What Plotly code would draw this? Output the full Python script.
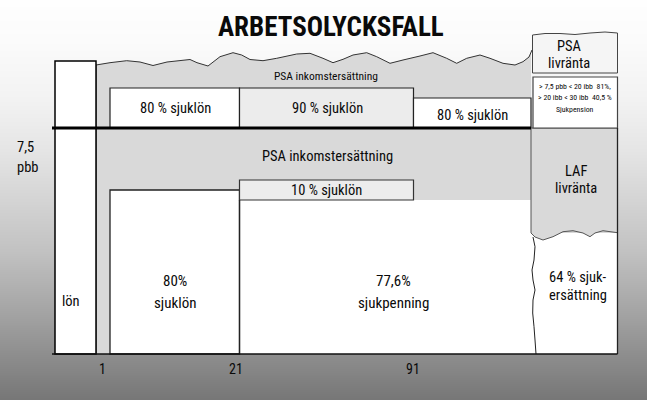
import plotly.graph_objects as go

# ---------------- data (labels / values) ----------------
title_text = "ARBETSOLYCKSFALL"
day_ticks = [1, 21, 91]
day_tick_labels = ["1", "21", "91"]
income_cap_lines = ["7,5", "pbb"]
upper_band_label = "PSA inkomstersättning"
upper_labels = ["80 % sjuklön", "90 % sjuklön", "80 % sjuklön"]
lower_band_label = "PSA inkomstersättning"
sick_pay_lines = ["80%", "sjuklön"]
top_up_label = "10 % sjuklön"
sickness_benefit_lines = ["77,6%", "sjukpenning"]
salary_label = "lön"
psa_annuity_lines = ["PSA", "livränta"]
laf_annuity_lines = ["LAF", "livränta"]
pension_lines = ["> 7,5 pbb < 20 ibb  81%,", "> 20 ibb < 30 ibb  40,5 %", "Sjukpension"]
compensation_lines = ["64 % sjuk-", "ersättning"]

# ---------------- schematic geometry (diagram units) ----------------
# column edges: lön | karens | day 1-21 | day 22-91 | after 91 | livränta
col = [55, 96, 110, 239.5, 413.5, 531, 617.5]
y_base = 354          # time axis
y_cap = 128           # 7,5 pbb line
y_top_box = 61
y_upper_box = [88, 88, 98]
y_sick80_top = 190
y_ten_top, y_ten_bot = 180, 200
tick_x = [102, 236, 413]

top_wave = [(96, 65), (110, 62.7), (126.7, 60.7), (140, 62), (153, 65.5), (167, 62), (190, 59.5),
            (197, 62.7), (208, 66), (220, 56.7), (233, 52.7), (241.7, 55), (250, 59.5), (263, 60.7),
            (276.7, 58.3), (296.7, 54), (310, 53.3), (323, 58.3), (333, 62.7), (343, 59.3), (353, 55),
            (366.7, 52.7), (376.7, 56.7), (390, 63.3), (403, 60), (420, 56), (433, 52.7), (446.7, 58.3),
            (456.7, 63.3), (466.7, 58.3), (480, 55), (490, 58.3), (503, 63.3), (515, 65), (523, 61.7),
            (529, 57), (532, 50)]
laf_wave = [(531, 233), (535, 237), (543, 240), (553, 236.7), (563, 231.7), (573, 230.7), (583, 233),
            (590, 236.7), (595, 233), (603, 230.7), (617.5, 232.7)]
side_wave = [(533, 237), (535, 246.7), (534, 260), (532, 270), (533, 280), (535, 290), (533, 300),
             (532.7, 313), (534, 326.7), (535, 340), (536, 354)]
psa_wave = [(532.5, 35), (545, 33.5), (560, 33.5), (575, 34.5), (590, 33), (605, 32), (617.5, 33)]

bg_y = [0, 40, 100, 150, 200, 250, 300, 350, 400]
bg_v = [254, 251, 242, 229, 212, 194, 170, 144, 118]

GRAY = "#d9d9d9"
LIGHT = "#ececec"
FONT = "Roboto Condensed, Roboto, Liberation Sans, sans-serif"


def path_of(points, close=False, start="M"):
    s = start + " " + " L ".join(f"{x},{y}" for x, y in points)
    return s + (" Z" if close else "")


fig = go.Figure()
fig.add_trace(go.Heatmap(x=[0, 647], y=bg_y, z=[[v, v] for v in bg_v], zmin=0, zmax=255,
                         colorscale=[[0, "rgb(0,0,0)"], [1, "rgb(255,255,255)"]],
                         showscale=False, zsmooth="best", hoverinfo="skip"))

shapes = []
# big gray PSA region (wave top, down to the 10% box bottom, strip down to axis)
gray_pts = top_wave + [(col[5], top_wave[-1][1]), (col[5], y_ten_bot), (col[2], y_ten_bot),
                       (col[2], y_base), (col[1], y_base)]
shapes.append(dict(type="path", path=path_of(gray_pts, True), fillcolor=GRAY, line=dict(width=0)))
shapes.append(dict(type="path", path=path_of(top_wave), line=dict(color="#333", width=1)))
shapes.append(dict(type="line", x0=col[1], x1=col[1], y0=top_wave[0][1], y1=y_base,
                   line=dict(color="#555", width=1.2)))
# lön column
shapes.append(dict(type="rect", x0=col[0], x1=col[1], y0=y_top_box, y1=y_base, fillcolor="white",
                   line=dict(color="black", width=1.5)))
# upper boxes
fills = ["white", LIGHT, "white"]
for i in range(3):
    shapes.append(dict(type="rect", x0=col[2 + i], x1=col[3 + i], y0=y_upper_box[i], y1=y_cap,
                       fillcolor=fills[i], line=dict(color="#222", width=1.2)))
# lower white areas
shapes.append(dict(type="rect", x0=col[3], x1=col[5], y0=y_ten_bot, y1=y_base, fillcolor="white",
                   line=dict(width=0)))
shapes.append(dict(type="rect", x0=col[5], x1=col[6], y0=laf_wave[-1][1], y1=y_base, fillcolor="white",
                   line=dict(width=0)))
shapes.append(dict(type="rect", x0=col[2], x1=col[3], y0=y_sick80_top, y1=y_base, fillcolor="white",
                   line=dict(color="#222", width=1.3)))
shapes.append(dict(type="rect", x0=col[3], x1=col[4], y0=y_ten_top, y1=y_ten_bot, fillcolor=LIGHT,
                   line=dict(color="#333", width=1.2)))
shapes.append(dict(type="line", x0=col[3], x1=col[3], y0=y_ten_bot, y1=y_base,
                   line=dict(color="#222", width=1.3)))
# LAF livränta
laf_pts = [(col[5], y_cap), (col[6], y_cap)] + laf_wave[::-1]
shapes.append(dict(type="path", path=path_of(laf_pts, True), fillcolor=GRAY,
                   line=dict(color="#555", width=1)))
shapes.append(dict(type="path", path=path_of(side_wave), line=dict(color="#222", width=1)))
# PSA livränta and sjukpension boxes
psa_pts = psa_wave + [(col[6], 73), (psa_wave[0][0], 73)]
shapes.append(dict(type="path", path=path_of(psa_pts, True), fillcolor="#f5f5f5",
                   line=dict(color="#444", width=1)))
shapes.append(dict(type="rect", x0=533, x1=col[6], y0=77, y1=y_cap, fillcolor="white",
                   line=dict(color="#444", width=1.2)))
shapes.append(dict(type="line", x0=col[6], x1=col[6], y0=y_cap, y1=y_base,
                   line=dict(color="#222", width=1.3)))
# 7,5 pbb line and time axis
shapes.append(dict(type="line", x0=52, x1=col[5], y0=y_cap, y1=y_cap, line=dict(color="black", width=3)))
shapes.append(dict(type="line", x0=52, x1=col[6], y0=y_base, y1=y_base, line=dict(color="#111", width=1.5)))

ann = []


def txt(x, y, s, size=14.5, bold=False, color="#0a0a0a", anchor="center"):
    ann.append(dict(x=x, y=y, text=(f"<b>{s}</b>" if bold else s), showarrow=False, xref="x", yref="y",
                    xanchor=anchor, yanchor="middle", align="center", borderpad=0,
                    font=dict(family=FONT, size=size, color=color)))


def lines(x, ys, texts, size=14.5, anchor="center"):
    for yy, s in zip(ys, texts):
        txt(x, yy, s, size=size, anchor=anchor)


txt(331, 27, title_text, size=27, bold=True)
txt(326, 76, upper_band_label, size=11.5)
upper_cx = [175, 327, 472]
upper_cy = [108, 108, 115]
for i, s in enumerate(upper_labels):
    txt(upper_cx[i], upper_cy[i], s, size=14.5)
lines(569, [46, 63], psa_annuity_lines, size=14.5)
lines(575, [86, 97.5, 109], pension_lines, size=7.8)
txt(327, 156, lower_band_label, size=14.5)
txt(326, 190, top_up_label, size=14.5)
lines(576, [171.5, 188.5], laf_annuity_lines, size=14.5)
lines(16, [147, 167], income_cap_lines, size=14.5, anchor="left")
txt(71, 301, salary_label, size=14.5)
lines(175, [281, 303], sick_pay_lines, size=15)
lines(393, [281, 303], sickness_benefit_lines, size=15)
lines(578, [277.5, 295], compensation_lines, size=14.5)
for i, lab in enumerate(day_tick_labels):
    txt(tick_x[i], 369, lab, size=14)

fig.update_layout(
    width=647, height=400, margin=dict(l=0, r=0, t=0, b=0),
    paper_bgcolor="white", plot_bgcolor="rgba(0,0,0,0)",
    xaxis=dict(range=[0, 647], visible=False, fixedrange=True),
    yaxis=dict(range=[400, 0], visible=False, fixedrange=True),
    shapes=shapes, annotations=ann, showlegend=False,
)
fig.write_html("out.html", config={"displayModeBar": False},
               post_script="document.body.style.margin='0';document.body.style.overflow='hidden';")
